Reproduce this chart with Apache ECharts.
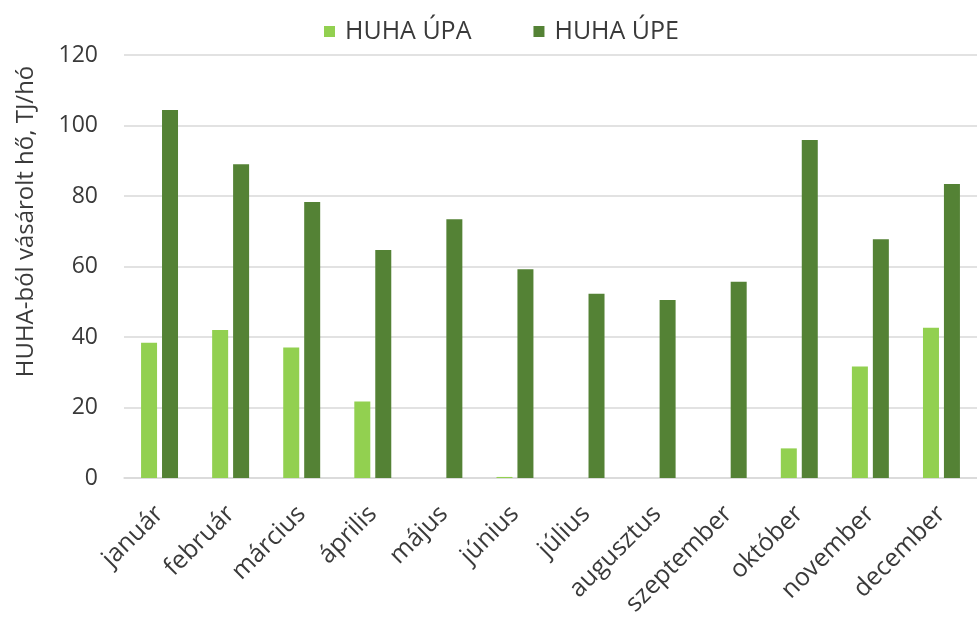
<!DOCTYPE html>
<html>
<head>
<meta charset="utf-8">
<script src="https://cdn.jsdelivr.net/npm/echarts@6/dist/echarts.min.js"></script>
<style>
  html, body { margin: 0; padding: 0; background: #fff; }
  #container { width: 977px; height: 621px; }
</style>
</head>
<body>
<div id="container"></div>
<script>
var months = ['január', 'február', 'március', 'április', 'május', 'június', 'július', 'augusztus', 'szeptember', 'október', 'november', 'december'];
var upaValues = [38.4, 42.0, 37.0, 21.7, 0, 0.3, 0, 0, 0, 8.4, 31.6, 42.6];
var upeValues = [104.4, 89.0, 78.3, 64.7, 73.4, 59.2, 52.3, 50.5, 55.7, 95.9, 67.7, 83.4];
var seriesNames = ['HUHA ÚPA', 'HUHA ÚPE'];

var dom = document.getElementById("container");
var myChart = echarts.init(dom);
var font = 'Open Sans';
var textColor = '#3a3a3a';

var option = {
    backgroundColor: '#fff',
    legend: {
        top: 14,
        left: 319,
        itemWidth: 11,
        itemHeight: 11,
        itemGap: 62,
        icon: 'rect',
        textStyle: { fontFamily: font, fontSize: 25, color: textColor, padding: [0, 0, 0, 5] },
        data: seriesNames
    },
    grid: {
        left: 124,
        top: 55,
        width: 859,
        height: 423
    },
    xAxis: {
        type: 'category',
        data: months,
        axisLine: { lineStyle: { color: '#d9d9d9', width: 1.5 } },
        axisTick: { show: false },
        axisLabel: {
            rotate: 45,
            interval: 0,
            margin: 32,
            fontFamily: font,
            fontSize: 25,
            color: textColor
        }
    },
    yAxis: {
        type: 'value',
        min: 0,
        max: 120,
        interval: 20,
        name: 'HUHA-ból vásárolt hő, TJ/hó',
        nameLocation: 'middle',
        nameGap: 86,
        nameTextStyle: { fontFamily: font, fontSize: 24, color: textColor, padding: [0, 0, 0, 90] },
        axisLine: { show: false },
        axisTick: { show: false },
        splitLine: { lineStyle: { color: '#d9d9d9', width: 1.5 } },
        axisLabel: { fontFamily: font, fontSize: 23, color: textColor, margin: 26 }
    },
    series: [
        {
            name: seriesNames[0],
            type: 'bar',
            barWidth: 16,
            barGap: '31%',
            itemStyle: { color: '#92D050' },
            data: upaValues
        },
        {
            name: seriesNames[1],
            type: 'bar',
            barWidth: 16,
            barGap: '31%',
            itemStyle: { color: '#548235' },
            data: upeValues
        }
    ]
};

myChart.setOption(option, true);
</script>
</body>
</html>
